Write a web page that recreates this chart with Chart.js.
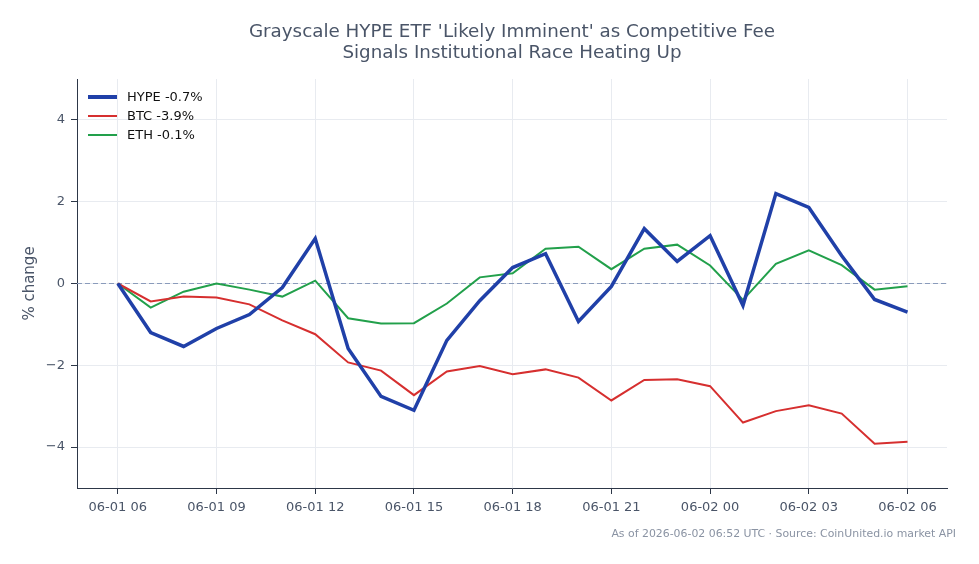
<!DOCTYPE html>
<html>
<head>
<meta charset="utf-8">
<script src="https://cdn.jsdelivr.net/npm/chart.js@4"></script>
<style>
  html, body { margin: 0; padding: 0; background: #ffffff; }
  #wrap { width: 979px; height: 564px; position: relative; }
</style>
</head>
<body>
<div id="wrap"><canvas id="c" width="979" height="564"></canvas></div>
<script>
const categories = ["06-01 06","06-01 07","06-01 08","06-01 09","06-01 10","06-01 11","06-01 12","06-01 13","06-01 14","06-01 15","06-01 16","06-01 17","06-01 18","06-01 19","06-01 20","06-01 21","06-01 22","06-01 23","06-02 00","06-02 01","06-02 02","06-02 03","06-02 04","06-02 05","06-02 06"];
const hypeValues = [0, -1.20, -1.54, -1.10, -0.76, -0.10, 1.10, -1.59, -2.76, -3.10, -1.39, -0.42, 0.39, 0.73, -0.93, -0.07, 1.34, 0.54, 1.17, -0.54, 2.20, 1.86, 0.68, -0.39, -0.70];
const btcValues  = [0, -0.44, -0.32, -0.34, -0.51, -0.90, -1.24, -1.93, -2.13, -2.73, -2.15, -2.02, -2.22, -2.10, -2.30, -2.86, -2.36, -2.34, -2.51, -3.40, -3.12, -2.98, -3.18, -3.92, -3.87];
const ethValues  = [0, -0.59, -0.20, 0.00, -0.15, -0.32, 0.07, -0.85, -0.98, -0.97, -0.49, 0.15, 0.25, 0.85, 0.90, 0.35, 0.85, 0.95, 0.44, -0.40, 0.48, 0.81, 0.45, -0.15, -0.07];
const seriesNames = ["HYPE -0.7%", "BTC -3.9%", "ETH -0.1%"];
const xTickLabels = ["06-01 06","06-01 09","06-01 12","06-01 15","06-01 18","06-01 21","06-02 00","06-02 03","06-02 06"];
const yTickValues = [-4, -2, 0, 2, 4];
const titleLines = ["Grayscale HYPE ETF 'Likely Imminent' as Competitive Fee", "Signals Institutional Race Heating Up"];
const footerText = "As of 2026-06-02 06:52 UTC \u00b7 Source: CoinUnited.io market API";

const FONT = "'DejaVu Sans', sans-serif";
const toPoints = arr => arr.map((v, i) => ({ x: i, y: v }));

const zeroLine = {
  id: 'zeroLine',
  beforeDatasetsDraw(chart) {
    const { ctx, chartArea, scales } = chart;
    const y = scales.y.getPixelForValue(0);
    ctx.save();
    ctx.strokeStyle = '#8a9bbb';
    ctx.lineWidth = 1;
    ctx.setLineDash([5, 3]);
    ctx.beginPath();
    ctx.moveTo(chartArea.left, y);
    ctx.lineTo(chartArea.right, y);
    ctx.stroke();
    ctx.restore();
  }
};

const texts = {
  id: 'texts',
  afterDraw(chart) {
    const { ctx, chartArea } = chart;
    ctx.save();
    // title
    const cx = (chartArea.left + chartArea.right) / 2;
    ctx.font = "18.3px " + FONT;
    ctx.fillStyle = '#4a5568';
    ctx.textAlign = 'center';
    ctx.textBaseline = 'middle';
    titleLines.forEach((t, i) => ctx.fillText(t, cx, 32 + i * 21));
    // legend
    ctx.font = "13px " + FONT;
    ctx.textAlign = 'left';
    chart.data.datasets.forEach((ds, i) => {
      const y = chartArea.top + 18 + i * 19;
      ctx.strokeStyle = ds.borderColor;
      ctx.lineWidth = i === 0 ? 4 : ds.borderWidth;
      ctx.setLineDash([]);
      ctx.beginPath();
      ctx.moveTo(chartArea.left + 11, y);
      ctx.lineTo(chartArea.left + 40, y);
      ctx.stroke();
      ctx.fillStyle = '#111111';
      ctx.fillText(ds.label, chartArea.left + 50, y + 0.5);
    });
    // footer
    ctx.font = "10.9px " + FONT;
    ctx.fillStyle = '#8a93a3';
    ctx.textAlign = 'right';
    ctx.fillText(footerText, 956, 534);
    ctx.restore();
  }
};

new Chart(document.getElementById('c'), {
  type: 'line',
  data: {
    datasets: [
      { label: seriesNames[0], data: toPoints(hypeValues), borderColor: '#2040a8', backgroundColor: '#2040a8', borderWidth: 3.5, pointRadius: 0, tension: 0, order: 0 },
      { label: seriesNames[1], data: toPoints(btcValues), borderColor: '#d62f2f', backgroundColor: '#d62f2f', borderWidth: 2, pointRadius: 0, tension: 0, order: 1 },
      { label: seriesNames[2], data: toPoints(ethValues), borderColor: '#22a04b', backgroundColor: '#22a04b', borderWidth: 2, pointRadius: 0, tension: 0, order: 2 }
    ]
  },
  plugins: [zeroLine, texts],
  options: {
    responsive: false,
    animation: false,
    layout: { padding: { left: 0, right: 32, top: 79, bottom: 0 } },
    plugins: {
      title: { display: false },
      legend: { display: false },
      tooltip: { enabled: false }
    },
    scales: {
      x: {
        type: 'linear',
        min: -1.24,
        max: 25.2,
        afterBuildTicks: axis => { axis.ticks = xTickLabels.map((_, k) => ({ value: k * 3 })); },
        afterFit: axis => { axis.height = 76; },
        ticks: {
          callback: (v) => xTickLabels[Math.round(v / 3)],
          color: '#4a5568',
          font: { family: FONT, size: 13 },
          maxRotation: 0,
          autoSkip: false,
          padding: 6
        },
        grid: { color: '#e8ebf0', tickColor: '#2d3748', tickLength: 6, drawTicks: true },
        border: { color: '#2d3748', width: 1 }
      },
      y: {
        min: -5,
        max: 5,
        afterBuildTicks: axis => { axis.ticks = yTickValues.map(v => ({ value: v })); },
        afterFit: axis => { axis.width = 77; },
        title: {
          display: true,
          text: '% change',
          color: '#4a5568',
          font: { family: FONT, size: 15 },
          padding: { top: 21, bottom: 0 }
        },
        ticks: {
          callback: v => String(v).replace('-', '\u2212'),
          color: '#4a5568',
          font: { family: FONT, size: 13 },
          padding: 6
        },
        grid: { color: '#e8ebf0', tickColor: '#2d3748', tickLength: 6, drawTicks: true },
        border: { color: '#2d3748', width: 1 }
      }
    }
  }
});
</script>
</body>
</html>
